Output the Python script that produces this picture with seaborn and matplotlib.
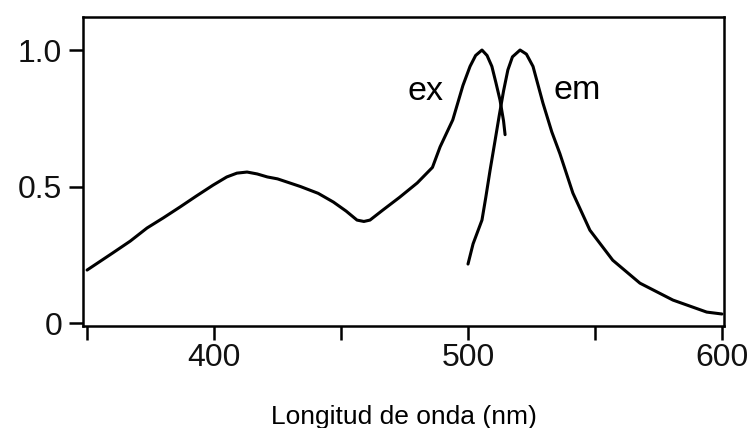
import matplotlib
matplotlib.use("Agg")
import matplotlib.pyplot as plt
import seaborn as sns

# excitation spectrum (normalised)
ex_nm = [350, 355, 360, 367, 373.6, 380, 386.6, 393, 399.6, 405, 409, 413, 417,
         421, 425, 434, 441, 447, 452, 456.3, 459, 461.4, 466.5, 473, 480, 486,
         489, 494, 498, 500.8, 503, 505.5, 507.5, 509.4, 511, 512.6, 514, 514.6]
ex_int = [0.194, 0.225, 0.256, 0.30, 0.348, 0.385, 0.425, 0.465, 0.505, 0.535,
          0.549, 0.553, 0.546, 0.535, 0.528, 0.50, 0.475, 0.443, 0.41, 0.377,
          0.372, 0.377, 0.414, 0.46, 0.513, 0.57, 0.645, 0.744, 0.87, 0.94,
          0.98, 1.0, 0.98, 0.94, 0.88, 0.817, 0.74, 0.69]

# emission spectrum (normalised)
em_nm = [500, 502, 505.5, 507, 508.7, 510.6, 512.3, 514, 515.7, 517.5, 520.5,
         523, 525.6, 529.5, 533, 536.2, 541.3, 548, 557, 567.7, 580.7, 594, 600]
em_int = [0.216, 0.29, 0.377, 0.46, 0.56, 0.665, 0.76, 0.85, 0.927, 0.975, 1.0,
          0.985, 0.94, 0.806, 0.70, 0.62, 0.476, 0.34, 0.23, 0.146, 0.084,
          0.04, 0.033]

x_ticks = [350, 400, 450, 500, 550, 600]
x_tick_labels = ["", "400", "", "500", "", "600"]
y_ticks = [0, 0.5, 1.0]
y_tick_labels = ["0", "0.5", "1.0"]

sns.set_style("ticks")
plt.rcParams["font.family"] = ["Liberation Sans", "DejaVu Sans"]

fig = plt.figure(figsize=(7.5, 4.28), dpi=100)
ax = fig.add_axes([0.1107, 0.2383, 0.8546, 0.722])

sns.lineplot(x=ex_nm, y=ex_int, ax=ax, color="black", linewidth=2.2,
             sort=False, estimator=None)
sns.lineplot(x=em_nm, y=em_int, ax=ax, color="black", linewidth=2.2,
             sort=False, estimator=None)

ax.text(476.0, 0.817, "ex", fontsize=24.5, color="black", va="baseline", ha="left")
ax.text(533.5, 0.82, "em", fontsize=24.5, color="black", va="baseline", ha="left")

ax.set_xlim(348.4, 600.8)
ax.set_ylim(-0.011, 1.121)
ax.set_xticks(x_ticks)
ax.set_xticklabels(x_tick_labels)
ax.set_yticks(y_ticks)
ax.set_yticklabels(y_tick_labels)
ax.tick_params(axis="both", direction="out", length=10, width=1.8,
               color="black", labelcolor="#111111", labelsize=23)
ax.tick_params(axis="x", pad=2)
ax.tick_params(axis="y", pad=5)

for side in ["left", "right", "top", "bottom"]:
    ax.spines[side].set_visible(True)
    ax.spines[side].set_linewidth(1.8)
    ax.spines[side].set_color("black")

ax.set_xlabel("Longitud de onda (nm)", fontsize=19, color="black", labelpad=23)
ax.set_ylabel("")

fig.savefig("out.png", dpi=100)
plt.close(fig)
